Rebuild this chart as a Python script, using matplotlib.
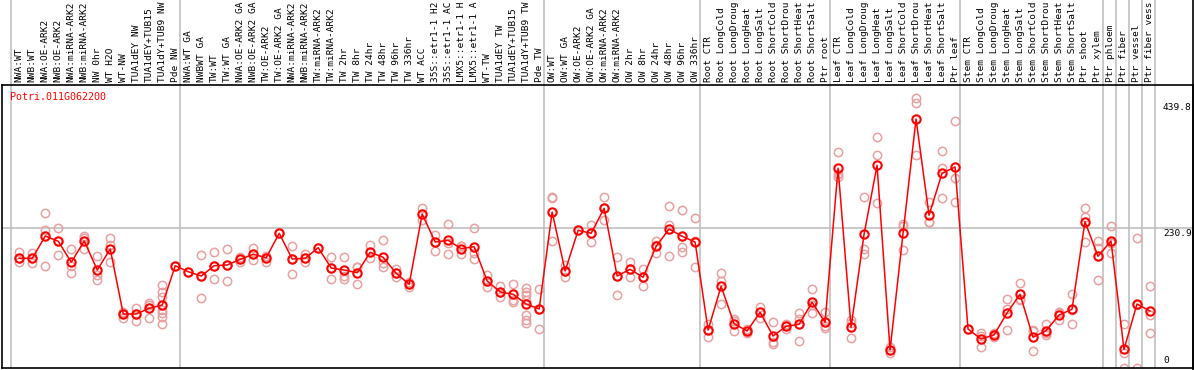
import matplotlib
matplotlib.use("Agg")
import matplotlib.pyplot as plt
import matplotlib.transforms as mtransforms
from matplotlib.lines import Line2D

gene = "Potri.011G062200"

# labels as far as the reference shows them
labels = [
    "NWA:WT", "NWB:WT", "NWA:OE-ARK2", "NWB:OE-ARK2", "NWA:miRNA-ARK2", "NWB:miRNA-ARK2",
    "NW 0hr", "WT H2O", "WT-NW", "TUA1dEY NW", "TUA1dEY+TUB15", "TUA1dY+TUB9 NW", "Pde NW",
    "NWA:WT GA", "NWBWT GA", "TW:WT", "TW:WT GA", "NWA:OE-ARK2 GA", "NWB:OE-ARK2 GA",
    "TW:OE-ARK2", "TW:OE-ARK2 GA", "NWA:miRNA-ARK2", "NWB:miRNA-ARK2", "TW:miRNA-ARK2",
    "TW:miRNA-ARK2", "TW 2hr", "TW 8hr", "TW 24hr", "TW 48hr", "TW 96hr", "TW 336hr",
    "WT ACC", "35S::etr1-1 H2", "35S::etr1-1 AC", "LMX5::etr1-1 H", "LMX5::etr1-1 A",
    "WT-TW", "TUA1dEY TW", "TUA1dEY+TUB15", "TUA1dY+TUB9 TW", "Pde TW",
    "OW:WT", "OW:WT GA", "OW:OE-ARK2", "OW:OE-ARK2 GA", "OW:miRNA-ARK2", "OW:miRNA-ARK2",
    "OW 2hr", "OW 8hr", "OW 24hr", "OW 48hr", "OW 96hr", "OW 336hr",
    "Root CTR", "Root LongCold", "Root LongDroug", "Root LongHeat", "Root LongSalt",
    "Root ShortCold", "Root ShortDrou", "Root ShortHeat", "Root ShortSalt", "Ptr root",
    "Leaf CTR", "Leaf LongCold", "Leaf LongDroug", "Leaf LongHeat", "Leaf LongSalt",
    "Leaf ShortCold", "Leaf ShortDrou", "Leaf ShortHeat", "Leaf ShortSalt", "Ptr leaf",
    "Stem CTR", "Stem LongCold", "Stem LongDroug", "Stem LongHeat", "Stem LongSalt",
    "Stem ShortCold", "Stem ShortDrou", "Stem ShortHeat", "Stem ShortSalt", "Ptr shoot",
    "Ptr xylem", "Ptr phloem", "Ptr fiber", "Ptr vessel", "Ptr fiber vess",
]

means = [
    181.4, 181.4, 218.2, 209.5, 174.8, 210.0, 162.0, 196.8, 89.3, 89.3,
    98.7, 104.2, 169.1, 159.2, 152.1, 169.1, 170.3, 179.7, 188.0, 182.4,
    222.7, 180.2, 181.4, 198.9, 165.3, 162.0, 157.6, 191.3, 183.0, 156.6,
    138.4, 254.6, 208.3, 211.1, 197.3, 200.6, 143.8, 125.7, 121.9, 105.8,
    97.6, 257.9, 160.4, 227.7, 222.7, 264.0, 152.1, 163.2, 150.0, 201.2,
    229.8, 217.8, 208.3, 62.8, 135.1, 73.2, 61.2, 92.1, 52.9, 68.9,
    72.3, 108.6, 75.6, 330.2, 67.3, 221.1, 335.1, 29.8, 222.7, 411.7,
    252.5, 321.9, 332.3, 64.5, 47.9, 54.6, 90.9, 121.9, 50.8, 61.7,
    87.6, 97.1, 241.9, 184.7, 210.0, 30.6, 105.8, 94.2,
]

reps = [
    [191.3, 181.4, 175.8], [190.1, 181.4, 173.1], [255.8, 228.2, 168.6], [231.5, 209.5, 186.8],
    [196.8, 169.1, 156.6], [218.7, 215.4, 197.3], [185.2, 153.8, 145.0], [214.4, 203.4, 174.8],
    [83.2, 93.1, 89.3], [98.7, 77.2, 89.3], [108.0, 104.2, 82.2],
    [137.2, 126.2, 117.9, 95.9, 90.4, 84.8, 72.3], [169.1], [159.2],
    [186.8, 152.1, 115.2], [191.3, 169.1, 146.7], [196.8, 170.3, 143.8], [184.0, 175.8, 179.7],
    [197.8, 178.6, 188.0], [185.7, 175.8, 182.4], [222.7, 222.7], [201.7, 154.9, 180.2],
    [188.0, 175.8, 181.4], [198.9], [183.0, 146.7, 165.3], [183.0, 152.1, 146.7],
    [167.5, 138.4, 167.0], [203.4, 181.4, 191.3], [211.6, 173.1, 166.5], [163.2, 150.0, 156.6],
    [134.4, 138.4, 142.2], [264.0, 244.7, 254.6], [219.9, 193.9, 208.3], [238.1, 188.5, 206.7],
    [202.2, 188.0, 201.7], [232.0, 190.6, 179.7], [153.8, 133.4, 143.8], [135.6, 117.4, 125.7],
    [138.4, 112.4, 108.6], [131.8, 126.2, 120.7, 112.4, 87.6, 79.4, 73.9], [130.6, 64.0, 97.6],
    [280.6, 283.1, 210.0], [151.0, 160.4, 170.3], [227.7], [236.4, 208.8, 223.0],
    [282.7, 244.7, 264.0], [184.0, 120.7, 152.0], [175.8, 151.0, 163.0], [163.7, 135.1, 151.0],
    [210.5, 189.6, 203.0], [267.9, 185.7, 236.0], [260.7, 200.6, 192.3], [247.5, 167.5, 210.0],
    [72.3, 51.8, 62.8], [156.6, 143.8, 105.8], [80.5, 61.7, 77.7], [57.4, 61.2, 64.5],
    [101.4, 82.2, 92.6], [75.6, 43.5, 39.2], [73.2, 68.9, 64.5], [90.4, 45.1, 81.0],
    [130.6, 90.4, 104.7], [92.1, 65.6, 69.4], [356.6, 320.3, 315.3], [78.9, 49.1, 74.4],
    [282.7, 196.3, 188.0], [381.4, 351.7, 272.3], [24.3, 29.8, 34.7], [238.1, 195.1, 234.8],
    [445.9, 437.7, 351.7], [275.0, 241.9, 240.6], [358.8, 330.2, 280.6], [408.4, 313.6, 274.0],
    [64.5], [57.4, 34.2, 52.9], [57.4, 50.8, 56.2], [114.1, 97.6, 62.8],
    [140.0, 112.4, 114.1], [62.8, 28.6, 61.2], [72.7, 54.6, 57.9], [92.1, 79.4, 90.9],
    [121.9, 72.7, 96.7], [264.0, 250.2, 208.8], [210.5, 197.9, 145.5], [234.3, 189.6, 206.7],
    [72.3, 24.3, 0.0], [214.4, 0.0, 104.0], [135.6, 87.6, 57.4],
]

group_starts = [0, 13, 41, 53, 63, 73, 84, 85, 86, 87, 88]
tick_values = [439.8, 230.9, 0]
grid_value = 230.9

W, H = 1194, 370
mono = "DejaVu Sans Mono"
grey = "#c0c0c0"
fs = 6.8

fig = plt.figure(figsize=(W / 100, H / 100), dpi=100)
ax = fig.add_axes([2 / W, 2 / H, 1191 / W, 283 / H])
ax.set_xlim(-1.33, 90.31)
ax.set_ylim(0, 467.9)
ax.set_xticks([])
ax.set_yticks([])
for s in ax.spines.values():
    s.set_color("black")
    s.set_linewidth(1.2)

# group separators run up through the label strip
for g in group_starts:
    ax.axvline(g - 0.6, ymin=0, ymax=368 / 283, color=grey, lw=1.2, clip_on=False, zorder=0)
ax.axhline(grid_value, color=grey, lw=1.2, zorder=0)
fig.add_artist(Line2D([1192.5 / W] * 2, [0, 1], color="black", lw=1.2))

# replicates
for i, r in enumerate(reps):
    ax.plot([i] * len(r), r, "o", mfc="none", mec="#e8a0a0", ms=6, mew=1.1, zorder=2)

# means
ax.plot(range(len(means)), means, "-", color="red", lw=1.1, marker="o",
        mfc="none", mec="red", ms=6, mew=1.5, zorder=3)

# column labels
trans = mtransforms.blended_transform_factory(ax.transData, ax.transAxes)
for i, lab in enumerate(labels):
    ax.text(i, 1 + 3 / 283, lab, rotation=90, ha="center", va="bottom", transform=trans,
            fontsize=fs, family=mono, clip_on=False)

# value labels on the right
trans_y = mtransforms.blended_transform_factory(ax.transAxes, ax.transData)
for v in tick_values:
    if v == 0:
        ax.annotate("0", xy=(1161 / 1191, v), xycoords=trans_y, xytext=(0, 3),
                    textcoords="offset pixels", va="bottom", ha="left", fontsize=fs, family=mono)
    else:
        ax.annotate(f"{v}", xy=(1161 / 1191, v), xycoords=trans_y, xytext=(0, -1),
                    textcoords="offset pixels", va="top", ha="left", fontsize=fs, family=mono)

ax.text(8 / 1191, 1 - 12 / 283, gene, color="red", transform=ax.transAxes,
        va="center", ha="left", fontsize=7.2, family=mono)

fig.savefig("out.png", dpi=100)
